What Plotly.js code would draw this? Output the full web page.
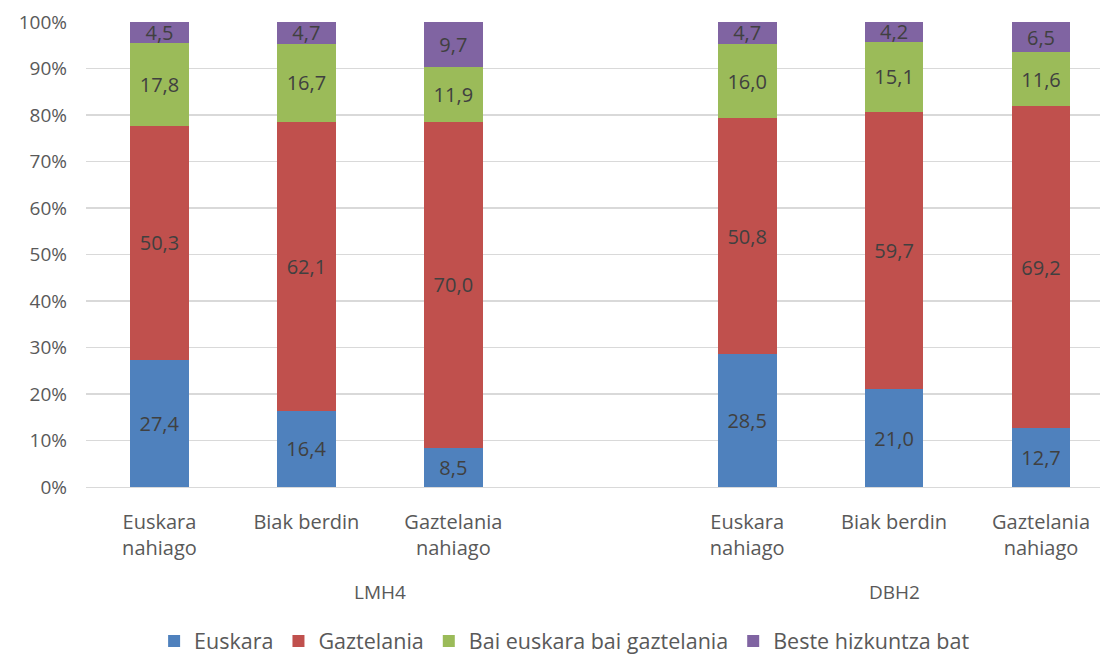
<!DOCTYPE html>
<html>
<head>
<meta charset="utf-8">
<script src="https://cdn.plot.ly/plotly-3.0.1.min.js"></script>
<style>html,body{margin:0;padding:0;background:#fff;}#chart{width:1100px;height:654px;}</style>
</head>
<body>
<div id="chart"></div>
<script>
// Category slots: 3 bars per group with one empty slot between groups
const positions = [0, 1, 2, 4, 5, 6];
const categoryLabels = ["Euskara<br>nahiago", "Biak berdin", "Gaztelania<br>nahiago",
                        "Euskara<br>nahiago", "Biak berdin", "Gaztelania<br>nahiago"];
const groupLabels = ["LMH4", "DBH2"];
const groupCenters = [1.5, 5];

const seriesNames = ["Euskara", "Gaztelania", "Bai euskara bai gaztelania", "Beste hizkuntza bat"];
const euskara = [27.4, 16.4, 8.5, 28.5, 21.0, 12.7];
const gaztelania = [50.3, 62.1, 70.0, 50.8, 59.7, 69.2];
const biak = [17.8, 16.7, 11.9, 16.0, 15.1, 11.6];
const beste = [4.5, 4.7, 9.7, 4.7, 4.2, 6.5];
const colors = ["#4F81BD", "#C0504D", "#9BBB59", "#8064A2"];

const yTicks = [0, 10, 20, 30, 40, 50, 60, 70, 80, 90, 100];

const FONT = "Open Sans, DejaVu Sans, sans-serif";
const fmt = v => v.toFixed(1).replace('.', ',');

const allSeries = [euskara, gaztelania, biak, beste];
const traces = allSeries.map((vals, i) => ({
  type: 'bar',
  name: seriesNames[i],
  x: positions,
  y: vals,
  width: 0.4,
  marker: {color: colors[i], line: {width: 0}},
  text: vals.map(fmt),
  textposition: 'inside',
  insidetextanchor: 'middle',
  constraintext: 'none',
  textangle: 0,
  textfont: {family: FONT, size: 20, color: '#404040'},
  hoverinfo: 'skip'
}));

const annotations = groupLabels.map((g, i) => ({
  text: g, x: groupCenters[i], xref: 'x', y: -0.226, yref: 'paper',
  showarrow: false, font: {family: FONT, size: 19, color: '#595959'},
  xanchor: 'center', yanchor: 'middle'
}));

const layout = {
  width: 1100, height: 654,
  margin: {l: 85.5, r: 0, t: 22, b: 167, autoexpand: false},
  paper_bgcolor: '#fff', plot_bgcolor: '#fff',
  barmode: 'stack',
  barnorm: 'percent',
  showlegend: true,
  legend: {
    orientation: 'h', x: 0.472, xanchor: 'center', y: -0.331, yanchor: 'middle',
    font: {family: FONT, size: 21.5, color: '#595959'},
    traceorder: 'normal', itemwidth: 30
  },
  xaxis: {
    range: [-0.5, 6.4014],
    tickmode: 'array', tickvals: positions, ticktext: categoryLabels,
    tickfont: {family: FONT, size: 20, color: '#595959'},
    showgrid: false, zeroline: false,
    showline: true, linecolor: '#d9d9d9', linewidth: 1.3,
    ticks: '', ticklabelstandoff: 17
  },
  yaxis: {
    range: [0, 100],
    tickmode: 'array', tickvals: yTicks, ticktext: yTicks.map(v => v + '%'),
    tickfont: {family: FONT, size: 19, color: '#595959'},
    showgrid: true, gridcolor: '#d9d9d9', gridwidth: 1.3,
    zeroline: false, showline: false, ticks: '', ticklabelstandoff: 18
  },
  annotations: annotations
};

Plotly.newPlot('chart', traces, layout, {staticPlot: true, displayModeBar: false});
</script>
</body>
</html>
